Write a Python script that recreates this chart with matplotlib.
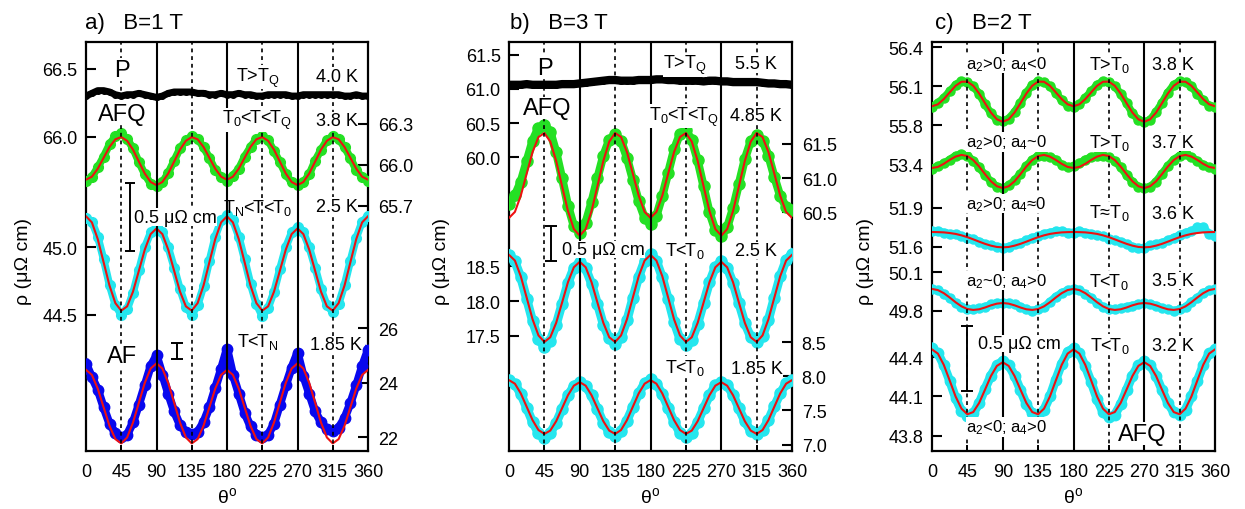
import numpy as np
import matplotlib
matplotlib.use("Agg")
import matplotlib.pyplot as plt
from matplotlib.ticker import FormatStrFormatter

plt.rcParams['font.family'] = ['Liberation Sans', 'DejaVu Sans']
plt.rcParams['mathtext.fontset'] = 'custom'
plt.rcParams['mathtext.rm'] = 'Liberation Sans'
plt.rcParams['mathtext.it'] = 'Liberation Sans:italic'
plt.rcParams['mathtext.bf'] = 'Liberation Sans:bold'

# angle grid (deg)
theta = [0, 7.5, 15, 22.5, 30, 37.5, 45, 52.5, 60, 67.5, 75, 82.5, 90, 97.5, 105, 112.5,
         120, 127.5, 135, 142.5, 150, 157.5, 165, 172.5, 180, 187.5, 195, 202.5, 210, 217.5,
         225, 232.5, 240, 247.5, 255, 262.5, 270, 277.5, 285, 292.5, 300, 307.5, 315, 322.5,
         330, 337.5, 345, 352.5, 360]
angle_ticks = [0, 45, 90, 135, 180, 225, 270, 315, 360]

# ---------------- panel a, B = 1 T ----------------
a_black_40K = [66.30, 66.32, 66.34, 66.34, 66.33, 66.31, 66.30, 66.31, 66.31, 66.32, 66.31, 66.30,
               66.29, 66.30, 66.32, 66.33, 66.33, 66.33, 66.33, 66.32, 66.32, 66.31, 66.31, 66.32,
               66.31, 66.31, 66.32, 66.31, 66.31, 66.30, 66.30, 66.31, 66.31, 66.31, 66.31, 66.30,
               66.30, 66.31, 66.31, 66.31, 66.31, 66.31, 66.31, 66.31, 66.30, 66.30, 66.31, 66.30, 66.30]
a_green_38K = [65.88, 65.91, 65.98, 66.06, 66.15, 66.21, 66.23, 66.19, 66.12, 66.02, 65.93, 65.86,
               65.84, 65.87, 65.94, 66.03, 66.12, 66.18, 66.21, 66.19, 66.13, 66.05, 65.96, 65.91,
               65.88, 65.92, 65.97, 66.06, 66.13, 66.19, 66.21, 66.18, 66.10, 66.02, 65.93, 65.87,
               65.85, 65.87, 65.93, 66.03, 66.11, 66.18, 66.21, 66.19, 66.13, 66.05, 65.96, 65.91, 65.88]
a_green_38K_fit = [65.890, 65.912, 65.971, 66.051, 66.131, 66.187, 66.204, 66.176, 66.111, 66.023, 65.936, 65.873,
                   65.850, 65.873, 65.936, 66.023, 66.111, 66.176, 66.204, 66.187, 66.131, 66.051, 65.971, 65.912,
                   65.890, 65.912, 65.971, 66.051, 66.131, 66.187, 66.204, 66.176, 66.111, 66.023, 65.936, 65.873,
                   65.850, 65.873, 65.936, 66.023, 66.111, 66.176, 66.204, 66.187, 66.131, 66.051, 65.971, 65.912, 65.890]
a_cyan_25K = [45.22, 45.19, 45.08, 44.91, 44.72, 44.57, 44.50, 44.54, 44.66, 44.83, 45.00, 45.11,
              45.15, 45.11, 45.00, 44.85, 44.69, 44.56, 44.50, 44.57, 44.71, 44.90, 45.08, 45.20,
              45.24, 45.20, 45.08, 44.91, 44.73, 44.58, 44.49, 44.55, 44.67, 44.84, 45.00, 45.11,
              45.15, 45.11, 45.00, 44.85, 44.69, 44.57, 44.52, 44.58, 44.72, 44.90, 45.07, 45.19, 45.23]
a_cyan_25K_fit = [45.230, 45.185, 45.061, 44.889, 44.716, 44.586, 44.530, 44.562, 44.671, 44.826, 44.982, 45.098,
                  45.140, 45.098, 44.982, 44.826, 44.671, 44.562, 44.530, 44.586, 44.716, 44.889, 45.061, 45.185,
                  45.230, 45.185, 45.061, 44.889, 44.716, 44.586, 44.530, 44.562, 44.671, 44.826, 44.982, 45.098,
                  45.140, 45.098, 44.982, 44.826, 44.671, 44.562, 44.530, 44.586, 44.716, 44.889, 45.061, 45.185, 45.230]
a_blue_185K = [24.70, 24.20, 23.75, 23.10, 22.50, 22.15, 22.00, 22.10, 22.55, 23.20, 23.90, 24.60,
               25.00, 24.30, 23.60, 22.95, 22.45, 22.20, 22.12, 22.20, 22.55, 23.10, 23.80, 24.50,
               25.25, 24.30, 23.60, 22.90, 22.40, 22.10, 22.00, 22.10, 22.50, 23.20, 23.90, 24.55,
               25.10, 24.25, 23.60, 22.95, 22.55, 22.30, 22.25, 22.35, 22.70, 23.25, 23.90, 24.60, 25.20]
a_blue_185K_fit = [24.470, 24.286, 23.784, 23.100, 22.423, 21.937, 21.780, 21.999, 22.543, 23.270, 23.991, 24.518,
                   24.710, 24.518, 23.991, 23.270, 22.543, 21.999, 21.780, 21.937, 22.423, 23.100, 23.784, 24.286,
                   24.470, 24.286, 23.784, 23.100, 22.423, 21.937, 21.780, 21.999, 22.543, 23.270, 23.991, 24.518,
                   24.710, 24.518, 23.991, 23.270, 22.543, 21.999, 21.780, 21.937, 22.423, 23.100, 23.784, 24.286, 24.470]

# ---------------- panel b, B = 3 T ----------------
b_black_55K = [61.06, 61.06, 61.06, 61.07, 61.06, 61.06, 61.06, 61.06, 61.06, 61.07, 61.07, 61.07,
               61.08, 61.09, 61.10, 61.11, 61.12, 61.13, 61.13, 61.12, 61.12, 61.12, 61.13, 61.13,
               61.13, 61.14, 61.14, 61.13, 61.13, 61.12, 61.12, 61.12, 61.12, 61.11, 61.12, 61.12,
               61.11, 61.11, 61.10, 61.10, 61.10, 61.10, 61.10, 61.09, 61.08, 61.08, 61.07, 61.07, 61.06]
b_green_485K = [60.62, 60.75, 60.95, 61.25, 61.55, 61.74, 61.78, 61.68, 61.38, 61.00, 60.60, 60.30,
                60.20, 60.35, 60.65, 61.00, 61.33, 61.56, 61.64, 61.55, 61.30, 60.98, 60.66, 60.42,
                60.33, 60.45, 60.74, 61.08, 61.42, 61.65, 61.70, 61.56, 61.26, 60.88, 60.50, 60.24,
                60.15, 60.28, 60.56, 60.92, 61.28, 61.54, 61.63, 61.55, 61.33, 61.02, 60.74, 60.58, 60.54]
b_green_485K_fit = [60.420, 60.507, 60.745, 61.067, 61.383, 61.602, 61.660, 61.535, 61.253, 60.883, 60.520, 60.256,
                    60.160, 60.256, 60.520, 60.883, 61.253, 61.535, 61.660, 61.602, 61.383, 61.067, 60.745, 60.507,
                    60.420, 60.507, 60.745, 61.067, 61.383, 61.602, 61.660, 61.535, 61.253, 60.883, 60.520, 60.256,
                    60.160, 60.256, 60.520, 60.883, 61.253, 61.535, 61.660, 61.602, 61.383, 61.067, 60.745, 60.507, 60.420]
b_cyan_25K = [18.66, 18.57, 18.34, 18.03, 17.71, 17.45, 17.34, 17.43, 17.66, 17.96, 18.26, 18.48,
              18.56, 18.47, 18.25, 17.96, 17.66, 17.46, 17.38, 17.48, 17.72, 18.04, 18.35, 18.58,
              18.68, 18.58, 18.34, 18.03, 17.70, 17.45, 17.37, 17.44, 17.67, 17.97, 18.27, 18.49,
              18.57, 18.48, 18.26, 17.97, 17.68, 17.48, 17.41, 17.50, 17.73, 18.05, 18.36, 18.59, 18.68]
b_cyan_25K_fit = [18.665, 18.583, 18.357, 18.048, 17.736, 17.504, 17.410, 17.478, 17.686, 17.977, 18.271, 18.486,
                  18.565, 18.486, 18.271, 17.977, 17.686, 17.478, 17.410, 17.504, 17.736, 18.048, 18.357, 18.583,
                  18.665, 18.583, 18.357, 18.048, 17.736, 17.504, 17.410, 17.478, 17.686, 17.977, 18.271, 18.486,
                  18.565, 18.486, 18.271, 17.977, 17.686, 17.478, 17.410, 17.504, 17.736, 18.048, 18.357, 18.583, 18.665]
b_cyan_185K = [7.94, 7.89, 7.74, 7.54, 7.33, 7.17, 7.10, 7.17, 7.32, 7.52, 7.72, 7.86,
               7.92, 7.86, 7.72, 7.52, 7.32, 7.18, 7.13, 7.20, 7.35, 7.55, 7.75, 7.90,
               7.96, 7.89, 7.74, 7.54, 7.33, 7.17, 7.11, 7.17, 7.33, 7.53, 7.72, 7.87,
               7.92, 7.87, 7.73, 7.53, 7.34, 7.20, 7.15, 7.21, 7.36, 7.56, 7.75, 7.90, 7.95]
b_cyan_185K_fit = [7.945, 7.893, 7.750, 7.554, 7.358, 7.213, 7.157, 7.205, 7.343, 7.533, 7.724, 7.864,
                   7.915, 7.864, 7.724, 7.533, 7.343, 7.205, 7.157, 7.213, 7.358, 7.554, 7.750, 7.893,
                   7.945, 7.893, 7.750, 7.554, 7.358, 7.213, 7.157, 7.205, 7.343, 7.533, 7.724, 7.864,
                   7.915, 7.864, 7.724, 7.533, 7.343, 7.205, 7.157, 7.213, 7.358, 7.554, 7.750, 7.893, 7.945]

# ---------------- panel c, B = 2 T ----------------
c_38K = [55.94, 55.97, 56.01, 56.06, 56.11, 56.14, 56.13, 56.10, 56.04, 55.96, 55.89, 55.84,
         55.83, 55.85, 55.90, 55.97, 56.05, 56.11, 56.14, 56.13, 56.10, 56.05, 55.99, 55.95,
         55.94, 55.96, 56.01, 56.06, 56.11, 56.14, 56.13, 56.10, 56.04, 55.97, 55.89, 55.84,
         55.82, 55.84, 55.90, 55.97, 56.05, 56.11, 56.14, 56.13, 56.10, 56.04, 55.99, 55.95, 55.94]
c_38K_fit = [55.945, 55.960, 56.000, 56.052, 56.103, 56.134, 56.135, 56.103, 56.043, 55.968, 55.896, 55.844,
             55.825, 55.844, 55.896, 55.968, 56.043, 56.103, 56.135, 56.134, 56.103, 56.052, 56.000, 55.960,
             55.945, 55.960, 56.000, 56.052, 56.103, 56.134, 56.135, 56.103, 56.043, 55.968, 55.896, 55.844,
             55.825, 55.844, 55.896, 55.968, 56.043, 56.103, 56.135, 56.134, 56.103, 56.052, 56.000, 55.960, 55.945]
c_37K = [53.37, 53.39, 53.41, 53.44, 53.47, 53.48, 53.47, 53.43, 53.38, 53.32, 53.27, 53.23,
         53.22, 53.24, 53.28, 53.33, 53.39, 53.44, 53.47, 53.47, 53.46, 53.44, 53.40, 53.38,
         53.39, 53.41, 53.44, 53.46, 53.47, 53.47, 53.46, 53.43, 53.38, 53.32, 53.27, 53.23,
         53.22, 53.23, 53.27, 53.33, 53.39, 53.44, 53.47, 53.48, 53.46, 53.43, 53.40, 53.38, 53.37]
c_37K_fit = [53.375, 53.383, 53.407, 53.437, 53.463, 53.476, 53.467, 53.436, 53.386, 53.327, 53.272, 53.234,
             53.220, 53.234, 53.272, 53.327, 53.386, 53.436, 53.467, 53.476, 53.463, 53.437, 53.407, 53.383,
             53.375, 53.383, 53.407, 53.437, 53.463, 53.476, 53.467, 53.436, 53.386, 53.327, 53.272, 53.234,
             53.220, 53.234, 53.272, 53.327, 53.386, 53.436, 53.467, 53.476, 53.463, 53.437, 53.407, 53.383, 53.375]
c_36K = [51.72, 51.72, 51.71, 51.70, 51.70, 51.68, 51.67, 51.66, 51.64, 51.62, 51.61, 51.60,
         51.59, 51.60, 51.62, 51.63, 51.65, 51.67, 51.68, 51.70, 51.71, 51.72, 51.72, 51.71,
         51.71, 51.72, 51.71, 51.70, 51.69, 51.68, 51.66, 51.65, 51.64, 51.62, 51.60, 51.59,
         51.59, 51.61, 51.62, 51.63, 51.65, 51.67, 51.69, 51.71, 51.72, 51.75, 51.75, 51.70, 51.68]
c_36K_fit = [51.714, 51.713, 51.711, 51.706, 51.699, 51.688, 51.674, 51.657, 51.639, 51.622, 51.608, 51.598,
             51.595, 51.598, 51.608, 51.622, 51.639, 51.657, 51.674, 51.688, 51.699, 51.706, 51.711, 51.713,
             51.714, 51.713, 51.711, 51.706, 51.699, 51.688, 51.674, 51.657, 51.639, 51.622, 51.608, 51.598,
             51.595, 51.598, 51.608, 51.622, 51.639, 51.657, 51.674, 51.688, 51.699, 51.706, 51.711, 51.713, 51.714]
c_35K = [49.97, 49.96, 49.93, 49.90, 49.86, 49.83, 49.81, 49.81, 49.82, 49.83, 49.85, 49.86,
         49.86, 49.86, 49.85, 49.83, 49.81, 49.80, 49.81, 49.83, 49.87, 49.91, 49.94, 49.96,
         49.97, 49.96, 49.93, 49.90, 49.86, 49.83, 49.81, 49.81, 49.82, 49.83, 49.84, 49.85,
         49.86, 49.85, 49.84, 49.82, 49.81, 49.80, 49.81, 49.83, 49.87, 49.90, 49.94, 49.96, 49.97]
c_35K_fit = [49.970, 49.961, 49.937, 49.903, 49.866, 49.834, 49.813, 49.806, 49.811, 49.825, 49.842, 49.855,
             49.860, 49.855, 49.842, 49.825, 49.811, 49.806, 49.813, 49.834, 49.866, 49.903, 49.937, 49.961,
             49.970, 49.961, 49.937, 49.903, 49.866, 49.834, 49.813, 49.806, 49.811, 49.825, 49.842, 49.855,
             49.860, 49.855, 49.842, 49.825, 49.811, 49.806, 49.813, 49.834, 49.866, 49.903, 49.937, 49.961, 49.970]
c_32K = [44.47, 44.43, 44.34, 44.22, 44.09, 43.99, 43.95, 43.97, 44.05, 44.16, 44.26, 44.34,
         44.37, 44.34, 44.26, 44.15, 44.04, 43.97, 43.95, 44.00, 44.10, 44.23, 44.35, 44.44,
         44.47, 44.43, 44.33, 44.21, 44.08, 43.98, 43.94, 43.96, 44.04, 44.15, 44.26, 44.34,
         44.37, 44.34, 44.26, 44.15, 44.05, 43.98, 43.96, 44.00, 44.10, 44.22, 44.34, 44.43, 44.46]
c_32K_fit = [44.460, 44.428, 44.342, 44.222, 44.100, 44.007, 43.964, 43.981, 44.051, 44.153, 44.257, 44.334,
             44.362, 44.334, 44.257, 44.153, 44.051, 43.981, 43.964, 44.007, 44.100, 44.222, 44.342, 44.428,
             44.460, 44.428, 44.342, 44.222, 44.100, 44.007, 43.964, 43.981, 44.051, 44.153, 44.257, 44.334,
             44.362, 44.334, 44.257, 44.153, 44.051, 43.981, 43.964, 44.007, 44.100, 44.222, 44.342, 44.428, 44.460]

GREEN = '#24e024'
CYAN = '#25e6ee'
BLUE = '#0808ee'
RED = '#ee1111'
W, H = 1245, 510

fig = plt.figure(figsize=(W / 100, H / 100), dpi=100)


def frame(x0, x1):
    ax = fig.add_axes([x0 / W, (H - 452) / H, (x1 - x0) / W, 409 / H])
    ax.set_xlim(0, 360)
    ax.set_ylim(0, 1)
    ax.set_xticks(angle_ticks)
    ax.set_yticks([])
    ax.tick_params(axis='x', direction='in', length=4, width=1.4, labelsize=13, pad=9)
    for s in ax.spines.values():
        s.set_linewidth(1.6)
    return ax


def group(ax, lims, ticks, side, fmt='%.1f'):
    g = ax.twinx()
    g.set_ylim(*lims)
    g.set_yticks(ticks)
    g.yaxis.set_major_formatter(FormatStrFormatter(fmt))
    if side == 'left':
        g.yaxis.tick_left()
        pad = 6
    else:
        pad = 7
    g.tick_params(axis='y', direction='in', length=7, width=1.5, labelsize=13, pad=pad)
    for s in g.spines.values():
        s.set_visible(False)
    return g


def band(g, y, color, lw=5.5, ms=7):
    g.plot(theta, y, '-', color=color, lw=lw, solid_joinstyle='round')
    g.plot(theta, y, 'o', color=color, ms=ms, mec=color)


def fit(g, y):
    g.plot(theta, y, '-', color=RED, lw=1.5)


def overlay(ax):
    ov = ax.twinx()
    ov.set_ylim(0, 1)
    ov.set_axis_off()
    for x in (90, 180, 270):
        ov.axvline(x, color='k', lw=1.5)
    for x in (45, 135, 225, 315):
        ov.axvline(x, color='k', lw=1.2, ls=(0, (2.3, 2.3)))
    return ov


def label(ov, x, y, s, size=13, ha='left', box=True):
    kw = dict(ha=ha, va='baseline', fontsize=size)
    if box:
        kw['bbox'] = dict(fc='white', ec='none', pad=0.3)
    ov.text(x, y, s, **kw)


def scalebar(g, x, lo, hi, cap):
    g.errorbar([x], [(lo + hi) / 2], yerr=[(hi - lo) / 2], color='k', lw=1.4,
               capsize=cap, capthick=1.4)


# ---------------- panel a ----------------
ax = frame(86, 368)
gA1 = group(ax, (63.679, 66.699), [66.0, 66.5], 'left')
gA2 = group(ax, (43.489, 46.523), [44.5, 45.0], 'left')
gB1 = group(ax, (63.894, 66.903), [65.7, 66.0, 66.3], 'right')
gB2 = group(ax, (21.503, 36.457), [22, 24, 26], 'right', '%d')
band(gA1, a_black_40K, 'k', lw=5, ms=4)
band(gB1, a_green_38K, GREEN)
fit(gB1, a_green_38K_fit)
band(gA2, a_cyan_25K, CYAN)
fit(gA2, a_cyan_25K_fit)
band(gB2, a_blue_185K, BLUE, lw=6, ms=7.5)
fit(gB2, a_blue_185K_fit)
scalebar(gA2, 56, 44.975, 45.475, 3.6)
scalebar(gB2, 116, 24.87, 25.45, 4.6)
ov = overlay(ax)
label(ov, 46, 0.918, 'P', 17, 'center')
label(ov, 46, 0.810, 'AFQ', 17, 'center')
label(ov, 191.5, 0.905, r'T>T$_{\rm Q}$')
label(ov, 320, 0.905, '4.0 K', ha='center')
label(ov, 173.5, 0.801, r'T$_{\rm 0}$<T<T$_{\rm Q}$')
label(ov, 320, 0.797, '3.8 K', ha='center')
label(ov, 175, 0.584, r'T$_{\rm N}$<T<T$_{\rm 0}$', box=False)
label(ov, 320, 0.588, '2.5 K', ha='center')
label(ov, 61.5, 0.561, '0.5 μΩ cm')
label(ov, 193, 0.256, r'T<T$_{\rm N}$')
label(ov, 319, 0.249, '1.85 K', ha='center')
label(ov, 46, 0.217, 'AF', 17, 'center')

# ---------------- panel b ----------------
ax = frame(509, 792)
gA1 = group(ax, (55.706, 61.686), [60.0, 60.5, 61.0, 61.5], 'left')
gA2 = group(ax, (15.839, 21.732), [17.5, 18.0, 18.5], 'left')
gB1 = group(ax, (57.012, 62.991), [60.5, 61.0, 61.5], 'right')
gB2 = group(ax, (6.906, 12.903), [7.0, 7.5, 8.0, 8.5], 'right')
band(gA1, b_black_55K, 'k', lw=6, ms=4)
band(gB1, b_green_485K, GREEN, lw=6, ms=8)
fit(gB1, b_green_485K_fit)
band(gA2, b_cyan_25K, CYAN, lw=6.5, ms=8)
fit(gA2, b_cyan_25K_fit)
band(gB2, b_cyan_185K, CYAN, lw=6.5, ms=8)
fit(gB2, b_cyan_185K_fit)
scalebar(gA2, 54, 18.58, 19.08, 4.6)
ov = overlay(ax)
label(ov, 46, 0.922, 'P', 17, 'center')
label(ov, 48, 0.824, 'AFQ', 17, 'center')
label(ov, 196, 0.936, r'T>T$_{\rm Q}$')
label(ov, 314, 0.936, '5.5 K', ha='center')
label(ov, 178, 0.810, r'T$_{\rm 0}$<T<T$_{\rm Q}$')
label(ov, 314, 0.810, '4.85 K', ha='center')
label(ov, 67.5, 0.482, '0.5 μΩ cm')
label(ov, 198.5, 0.479, r'T<T$_{\rm 0}$')
label(ov, 314, 0.479, '2.5 K', ha='center')
label(ov, 198.5, 0.194, r'T<T$_{\rm 0}$')
label(ov, 315, 0.191, '1.85 K', ha='center')

# ---------------- panel c ----------------
ax = frame(932, 1215)
g1 = group(ax, (53.283, 56.441), [55.8, 56.1, 56.4], 'left')
g2 = group(ax, (51.189, 54.348), [53.4], 'left')
g3 = group(ax, (50.016, 53.187), [51.6, 51.9], 'left')
g4 = group(ax, (48.704, 51.899), [49.8, 50.1], 'left')
g5 = group(ax, (43.683, 46.812), [43.8, 44.1, 44.4], 'left')
band(g1, c_38K, GREEN, lw=5.5, ms=6.5)
fit(g1, c_38K_fit)
band(g2, c_37K, GREEN, lw=5.5, ms=6.5)
fit(g2, c_37K_fit)
band(g3, c_36K, CYAN, lw=5.5, ms=6.5)
fit(g3, c_36K_fit)
band(g4, c_35K, CYAN, lw=5.5, ms=6.5)
fit(g4, c_35K_fit)
band(g5, c_32K, CYAN, lw=6.5, ms=7.5)
fit(g5, c_32K_fit)
scalebar(g5, 44, 44.14, 44.64, 4.4)
ov = overlay(ax)
label(ov, 43.3, 0.936, r'a$_{\rm 2}$>0; a$_{\rm 4}$<0', 12)
label(ov, 199.7, 0.934, r'T>T$_{\rm 0}$')
label(ov, 307, 0.934, '3.8 K', ha='center')
label(ov, 43.3, 0.744, r'a$_{\rm 2}$>0; a$_{\rm 4}$~0', 12)
label(ov, 199.7, 0.744, r'T>T$_{\rm 0}$')
label(ov, 307, 0.744, '3.7 K', ha='center')
label(ov, 43.3, 0.593, r'a$_{\rm 2}$>0; a$_{\rm 4}$≈0', 12)
label(ov, 200, 0.571, r'T≈T$_{\rm 0}$')
label(ov, 307, 0.569, '3.6 K', ha='center')
label(ov, 43.3, 0.406, r'a$_{\rm 2}$~0; a$_{\rm 4}$>0', 12)
label(ov, 200, 0.403, r'T<T$_{\rm 0}$')
label(ov, 307, 0.406, '3.5 K', ha='center')
label(ov, 58.5, 0.252, '0.5 μΩ cm')
label(ov, 201, 0.248, r'T<T$_{\rm 0}$')
label(ov, 307, 0.248, '3.2 K', ha='center')
label(ov, 43.3, 0.047, r'a$_{\rm 2}$<0; a$_{\rm 4}$>0', 12)
label(ov, 268, 0.028, 'AFQ', 17, 'center')

# titles and axis labels
for x0, s in ((85, 'a)   B=1 T'), (510, 'b)   B=3 T'), (935, 'c)   B=2 T')):
    fig.text(x0 / W, 1 - 28.5 / H, s, fontsize=16, ha='left', va='baseline')
for xc in (23, 442, 865):
    fig.text(xc / W, 1 - 262 / H, 'ρ (μΩ cm)', fontsize=14, rotation=90, ha='center', va='center')
for xc in (227, 650.5, 1073.5):
    fig.text(xc / W, 1 - 497 / H, r'θ$^{\rm o}$', fontsize=14, ha='center', va='center')

fig.savefig('out.png', dpi=100)
